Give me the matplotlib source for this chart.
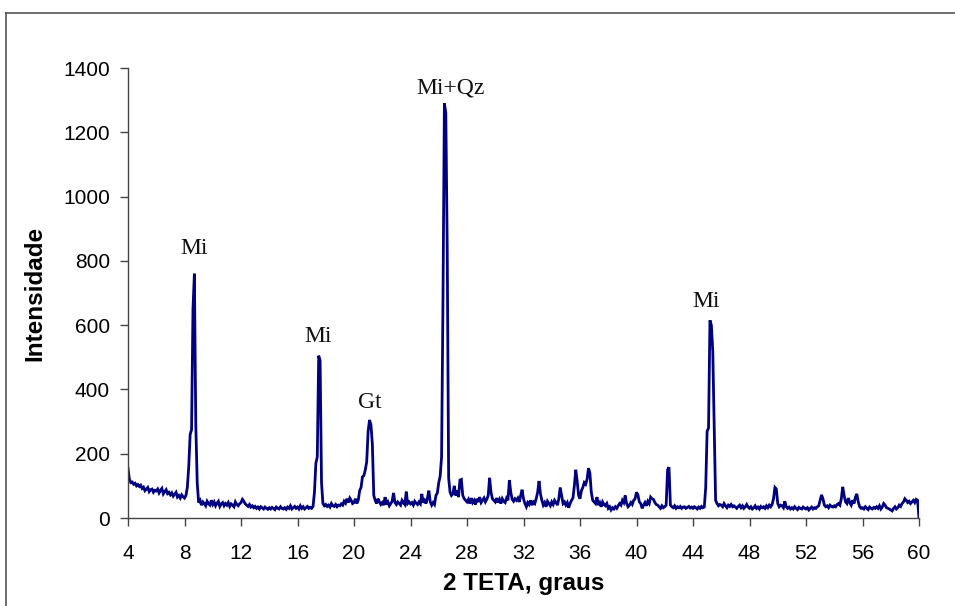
import numpy as np
import matplotlib
matplotlib.use("Agg")
import matplotlib.pyplot as plt
from matplotlib.lines import Line2D

# 2 theta grid, one point every 0.1 degree from 4.0 to 60.0
two_theta = np.round(np.arange(4.0, 60.05, 0.1), 1)

# intensity, one row per degree (x.0 .. x.9)
intensity = [
    155, 120, 110, 112, 105, 108, 100, 104, 98, 102,      # 4
    92, 96, 85, 90, 95, 82, 88, 90, 80, 86,               # 5
    84, 90, 78, 86, 92, 75, 82, 88, 76, 80,               # 6
    72, 78, 68, 74, 80, 65, 70, 62, 72, 66,               # 7
    62, 70, 95, 160, 260, 275, 650, 760, 290, 110,        # 8
    48, 55, 40, 50, 45, 38, 52, 44, 40, 55,               # 9
    42, 50, 38, 46, 52, 36, 44, 48, 38, 45,               # 10
    40, 48, 36, 44, 40, 35, 50, 42, 38, 44,               # 11
    48, 58, 52, 44, 40, 36, 42, 34, 38, 32,               # 12
    36, 30, 34, 28, 35, 32, 28, 34, 30, 27,               # 13
    32, 28, 33, 30, 26, 34, 30, 28, 35, 30,               # 14
    28, 32, 27, 34, 30, 38, 28, 32, 36, 30,               # 15
    34, 28, 38, 30, 35, 28, 32, 36, 30, 33,               # 16
    30, 36, 80, 170, 190, 505, 490, 110, 45, 38,          # 17
    42, 36, 40, 34, 45, 38, 36, 42, 35, 40,               # 18
    38, 44, 40, 52, 46, 60, 48, 62, 55, 45,               # 19
    48, 60, 45, 55, 85, 95, 128, 132, 150, 175,           # 20
    270, 305, 290, 230, 70, 55, 45, 60, 50, 42,           # 21
    48, 40, 65, 42, 50, 38, 45, 52, 78, 48,               # 22
    42, 50, 45, 40, 55, 48, 42, 82, 45, 50,               # 23
    44, 48, 40, 52, 46, 42, 50, 44, 75, 48,               # 24
    55, 45, 62, 85, 50, 40, 48, 42, 70, 78,               # 25
    110, 130, 190, 680, 1290, 1260, 840, 125, 80, 70,     # 26
    75, 100, 70, 85, 65, 118, 120, 70, 60, 55,            # 27
    50, 58, 45, 62, 48, 55, 42, 60, 50, 65,               # 28
    48, 55, 62, 50, 58, 70, 125, 80, 60, 55,              # 29
    50, 62, 48, 58, 45, 60, 52, 48, 62, 55,               # 30
    118, 80, 58, 52, 60, 55, 62, 50, 70, 88,              # 31
    60, 45, 35, 48, 42, 55, 40, 50, 45, 60,               # 32
    80, 115, 75, 55, 40, 48, 35, 52, 45, 38,              # 33
    50, 42, 55, 48, 40, 60, 95, 70, 45, 50,               # 34
    40, 48, 32, 45, 55, 62, 100, 150, 115, 70,            # 35
    60, 85, 95, 110, 105, 120, 155, 140, 80, 55,          # 36
    50, 45, 65, 40, 48, 35, 50, 42, 38, 45,               # 37
    30, 35, 25, 32, 28, 35, 30, 38, 45, 40,               # 38
    55, 48, 70, 45, 35, 40, 48, 42, 55, 60,               # 39
    80, 72, 50, 45, 30, 40, 48, 38, 52, 45,               # 40
    65, 60, 58, 48, 42, 40, 35, 30, 38, 32,               # 41
    35, 40, 150, 158, 40, 35, 32, 38, 30, 35,             # 42
    32, 36, 30, 34, 35, 30, 33, 36, 31, 34,               # 43
    30, 35, 32, 28, 34, 30, 36, 32, 34, 95,               # 44
    270, 280, 615, 600, 520, 280, 55, 45, 38, 42,         # 45
    40, 35, 45, 38, 32, 40, 36, 42, 35, 38,               # 46
    34, 30, 36, 40, 32, 38, 30, 35, 42, 34,               # 47
    30, 35, 28, 32, 38, 30, 34, 28, 36, 32,               # 48
    35, 30, 38, 32, 40, 35, 42, 60, 95, 90,               # 49
    45, 35, 40, 38, 32, 52, 35, 30, 34, 28,               # 50
    32, 28, 35, 30, 26, 33, 30, 28, 34, 30,               # 51
    28, 32, 25, 30, 34, 28, 32, 30, 35, 38,               # 52
    55, 72, 60, 40, 35, 38, 32, 40, 36, 34,               # 53
    38, 35, 42, 45, 40, 60, 97, 70, 50, 45,               # 54
    62, 48, 40, 55, 45, 65, 75, 50, 35, 30,               # 55
    32, 28, 35, 30, 26, 34, 30, 28, 33, 30,               # 56
    35, 30, 38, 28, 34, 45, 40, 32, 30, 28,               # 57
    25, 22, 30, 35, 28, 32, 40, 36, 45, 50,               # 58
    60, 55, 48, 52, 45, 50, 55, 48, 58, 55,               # 59
    0,                                                    # 60
]

# peak labels
peak_labels = ["Mi", "Mi", "Gt", "Mi+Qz", "Mi"]
peak_x = [8.7, 17.45, 21.1, 26.8, 44.9]
peak_y = [840, 565, 360, 1338, 675]

x_ticks = list(range(4, 61, 4))
y_ticks = list(range(0, 1401, 200))

fig = plt.figure(figsize=(9.55, 6.06), dpi=100)
ax = fig.add_axes([128 / 955, 88 / 606, 791 / 955, 450 / 606])

ax.plot(two_theta, intensity, color="#000080", lw=2.0, solid_joinstyle="miter")

for lab, px, py in zip(peak_labels, peak_x, peak_y):
    ax.text(px, py, lab, ha="center", va="center", fontsize=17,
            family="Liberation Serif", color="#111111")

ax.set_xlim(4, 60)
ax.set_ylim(0, 1400)
ax.set_xticks(x_ticks)
ax.set_yticks(y_ticks)

for s in ["top", "right"]:
    ax.spines[s].set_visible(False)
for s in ["left", "bottom"]:
    ax.spines[s].set_color("#444444")
    ax.spines[s].set_linewidth(1.0)

ax.tick_params(axis="both", direction="out", length=6, width=1.0,
               color="#444444", labelsize=15)
ax.tick_params(axis="x", pad=13)
ax.tick_params(axis="y", pad=7)
for t in ax.get_xticklabels() + ax.get_yticklabels():
    t.set_family("Liberation Sans")

ax.set_xlabel("2 TETA, graus", fontsize=17.5, fontweight="bold",
              family="Liberation Sans", labelpad=6)
ax.set_ylabel("Intensidade", fontsize=17.5, fontweight="bold",
              family="Liberation Sans", labelpad=12)

# outer chart frame: only its left and top edges fall inside the picture
fx = 5.5 / 955
fy = 1 - 12.5 / 606
fig.lines.append(Line2D([fx, fx], [0, fy], transform=fig.transFigure,
                        color="#555555", lw=1.2))
fig.lines.append(Line2D([fx, 1], [fy, fy], transform=fig.transFigure,
                        color="#555555", lw=1.2))

fig.savefig("out.png", dpi=100)
